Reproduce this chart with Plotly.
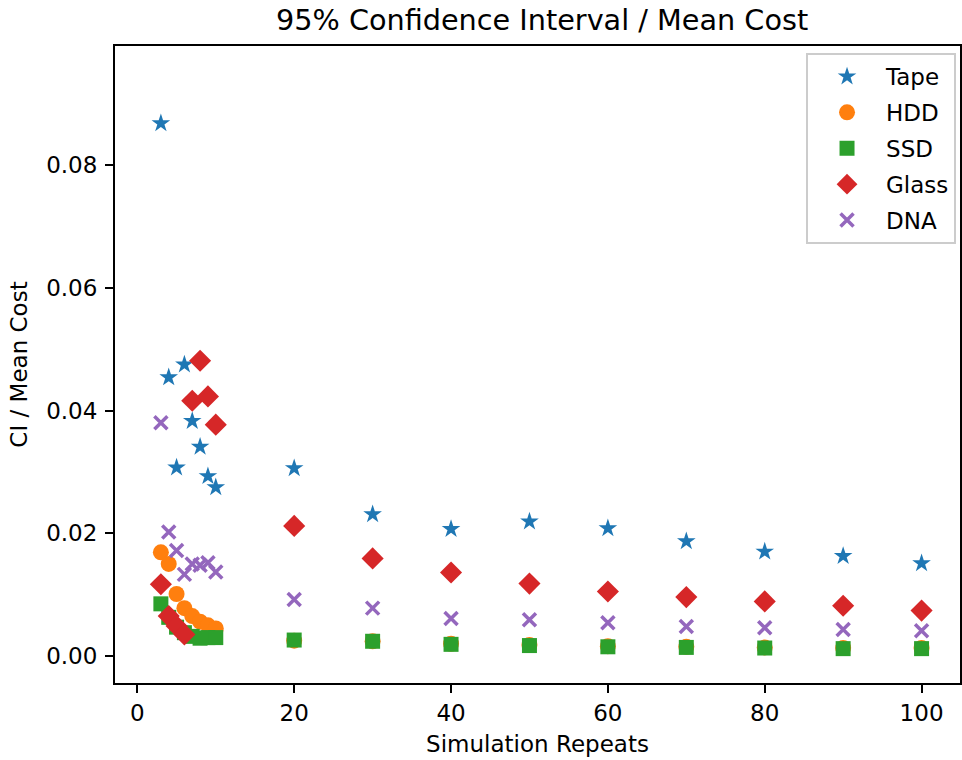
import plotly.graph_objects as go

repeats = [3, 4, 5, 6, 7, 8, 9, 10, 20, 30, 40, 50, 60, 70, 80, 90, 100]

tape = [0.0868, 0.0454, 0.0307, 0.0475, 0.0383, 0.0341, 0.0293, 0.0275,
        0.0306, 0.0231, 0.0207, 0.0219, 0.0208, 0.0187, 0.0170, 0.0163, 0.0151]
hdd = [0.0169, 0.0150, 0.0101, 0.0078, 0.0065, 0.0056, 0.0050, 0.0045,
       0.0025, 0.0024, 0.0020, 0.0018, 0.0016, 0.0015, 0.0014, 0.0013, 0.0013]
ssd = [0.0085, 0.0063, 0.0047, 0.0038, 0.0032, 0.0029, 0.0030, 0.0030,
       0.0026, 0.0024, 0.0019, 0.0017, 0.0015, 0.0014, 0.0013, 0.0012, 0.0012]
glass = [0.0117, 0.0065, 0.0049, 0.0035, 0.0416, 0.0481, 0.0423, 0.0377,
         0.0212, 0.0159, 0.0136, 0.0118, 0.0105, 0.0096, 0.0089, 0.0082, 0.0074]
dna = [0.0380, 0.0202, 0.0172, 0.0133, 0.0150, 0.0148, 0.0152, 0.0137,
       0.0092, 0.0078, 0.0061, 0.0059, 0.0054, 0.0048, 0.0046, 0.0043, 0.0041]

series = [
    ("Tape", tape, "#1f77b4", "star", 14),
    ("HDD", hdd, "#ff7f0e", "circle", 16),
    ("SSD", ssd, "#2ca02c", "square", 15),
    ("Glass", glass, "#d62728", "diamond", 17),
    ("DNA", dna, "#9467bd", "x-thin", 13),
]

fig = go.Figure()
for name, vals, color, sym, size in series:
    if sym == "x-thin":
        marker = dict(symbol=sym, size=size, color=color,
                      line=dict(color=color, width=3.5))
    else:
        marker = dict(symbol=sym, size=size, color=color,
                      line=dict(width=0))
    fig.add_trace(go.Scatter(x=repeats, y=vals, mode="markers", name=name,
                             legendgroup=name, marker=marker))

font = "DejaVu Sans"
axis_common = dict(
    showgrid=False, zeroline=False, showline=True, linecolor="black",
    linewidth=2, mirror=True, ticks="outside", ticklen=8, tickwidth=2,
    tickcolor="black", tickfont=dict(family=font, size=23, color="black"),
)
fig.update_layout(
    width=962, height=760,
    margin=dict(l=115, r=0, t=46, b=77),
    paper_bgcolor="white", plot_bgcolor="white",
    title=dict(text="95% Confidence Interval / Mean Cost",
               font=dict(family=font, size=28.7, color="black"),
               x=0.5635, xanchor="center", y=0.974, yanchor="middle"),
    xaxis=dict(range=[-2.85, 104.9], tickvals=[0, 20, 40, 60, 80, 100],
               title=dict(text="Simulation Repeats", standoff=11,
                          font=dict(family=font, size=23, color="black")),
               **axis_common),
    yaxis=dict(range=[-0.0044, 0.0994],
               tickvals=[0.0, 0.02, 0.04, 0.06, 0.08],
               ticktext=["0.00", "0.02", "0.04", "0.06", "0.08"],
               ticklabelstandoff=3,
               title=dict(text="CI / Mean Cost", standoff=12,
                          font=dict(family=font, size=23, color="black")),
               **axis_common),
    legend=dict(x=0.9953, xanchor="right", y=0.989, yanchor="top",
                bgcolor="rgba(255,255,255,0.8)", bordercolor="#cccccc",
                borderwidth=2, font=dict(family=font, size=23, color="black"),
                itemsizing="trace", itemwidth=68, tracegroupgap=3),
    showlegend=True,
)

fig.write_html("out.html")
